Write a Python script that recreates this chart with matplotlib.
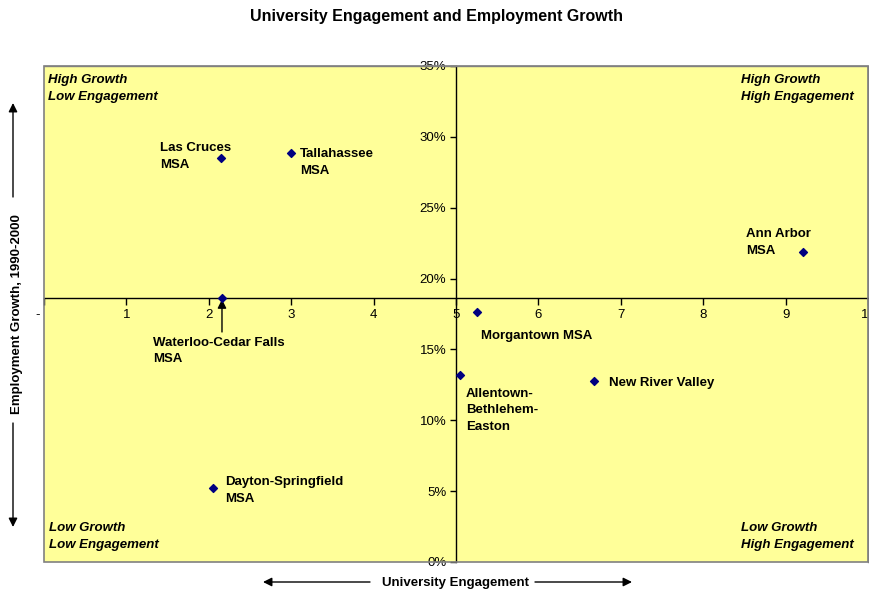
import matplotlib
matplotlib.use("Agg")
import matplotlib.pyplot as plt
from matplotlib.patches import Rectangle
from matplotlib.ticker import PercentFormatter

plt.rcParams['font.family'] = ['Liberation Sans', 'DejaVu Sans']

# data
areas = ["Las Cruces\nMSA", "Tallahassee\nMSA", "Ann Arbor\nMSA",
         "Waterloo-Cedar Falls\nMSA", "Morgantown MSA",
         "Allentown-\nBethlehem-\nEaston", "New River Valley",
         "Dayton-Springfield\nMSA"]
engagement = [2.15, 3.00, 9.21, 2.16, 5.26, 5.05, 6.67, 2.05]
growth = [0.285, 0.2886, 0.2185, 0.1863, 0.1764, 0.132, 0.128, 0.0522]
# label offsets (pixels) from each point to the top-left of its label
label_dx = [-61, 9, -57, -69, 4, 6, 15, 12]
label_dy = [16, 5, 24, -39, -18, -13, 4, 12]

x_ticks = list(range(0, 11))
x_tick_labels = ["-   "] + [str(i) for i in range(1, 11)]
y_ticks = [0, 0.05, 0.10, 0.15, 0.20, 0.25, 0.30, 0.35]
x_cross = 5
y_cross = 0.1863

quadrants = ["High Growth\nLow Engagement", "High Growth\nHigh Engagement",
             "Low Growth\nLow Engagement", "Low Growth\nHigh Engagement"]
quad_x = [0.005, 0.846, 0.006, 0.846]
quad_y = [0.984, 0.984, 0.080, 0.080]

fig = plt.figure(figsize=(8.69, 5.90), dpi=100)
ax = fig.add_axes([44/869, 1-562/590, 824/869, 496/590])
ax.set_facecolor("#FFFF99")

ax.scatter(engagement, growth, marker="D", s=16, color="#000080", zorder=5)

ax.set_xlim(0, 10)
ax.set_ylim(0, 0.35)

ax.spines["left"].set_position(("data", x_cross))
ax.spines["bottom"].set_position(("data", y_cross))
for s in ["left", "bottom"]:
    ax.spines[s].set_color("black")
    ax.spines[s].set_linewidth(1)
for s in ["top", "right"]:
    ax.spines[s].set_color("#808080")
    ax.spines[s].set_linewidth(1)
ax.add_patch(Rectangle((0, 0), 1, 1, transform=ax.transAxes, fill=False,
                       ec="#808080", lw=1.2, clip_on=False, zorder=3))

ax.set_xticks(x_ticks)
ax.set_xticklabels(x_tick_labels)
ax.set_yticks(y_ticks)
ax.yaxis.set_major_formatter(PercentFormatter(1.0, decimals=0))
ax.tick_params(axis="x", direction="out", length=5, width=1, pad=3, labelsize=9.5)
ax.tick_params(axis="y", direction="out", length=4, width=1, pad=3, labelsize=9.5)

for name, x, y, dx, dy in zip(areas, engagement, growth, label_dx, label_dy):
    ax.annotate(name, xy=(x, y), xytext=(dx, dy), textcoords="offset pixels",
                ha="left", va="top", fontsize=9.5, fontweight="bold",
                linespacing=1.5, zorder=6)

# arrow from the Waterloo label up to its point
ax.annotate("", xy=(engagement[3], growth[3]), xytext=(0, -34),
            textcoords="offset pixels",
            arrowprops=dict(arrowstyle="-|>", color="black", lw=1,
                            shrinkA=0, shrinkB=1, mutation_scale=13))

for txt, qx, qy in zip(quadrants, quad_x, quad_y):
    ax.text(qx, qy, txt, transform=ax.transAxes, ha="left", va="top",
            fontsize=9.5, fontweight="bold", fontstyle="italic", linespacing=1.55)

fig.text(436/869, 1-17/590, "University Engagement and Employment Growth",
         ha="center", va="center", fontsize=11.5, fontweight="bold")

# axis titles with arrows
fig.text(455/869, 1-583/590, "University Engagement", ha="center", va="center",
         fontsize=9.5, fontweight="bold")
fig.text(17/869, 1-314/590, "Employment Growth, 1990-2000", ha="center",
         va="center", rotation=90, fontsize=9.5, fontweight="bold")

arr = dict(arrowstyle="-|>", color="black", lw=1, shrinkA=0, shrinkB=0,
           mutation_scale=13)
ax.annotate("", xy=(263, 590-582), xytext=(370, 590-582),
            xycoords="figure pixels", textcoords="figure pixels", arrowprops=arr)
ax.annotate("", xy=(632, 590-582), xytext=(535, 590-582),
            xycoords="figure pixels", textcoords="figure pixels", arrowprops=arr)
ax.annotate("", xy=(13, 590-103), xytext=(13, 590-197),
            xycoords="figure pixels", textcoords="figure pixels", arrowprops=arr)
ax.annotate("", xy=(13, 590-527), xytext=(13, 590-423),
            xycoords="figure pixels", textcoords="figure pixels", arrowprops=arr)

fig.savefig("out.png", dpi=100)
